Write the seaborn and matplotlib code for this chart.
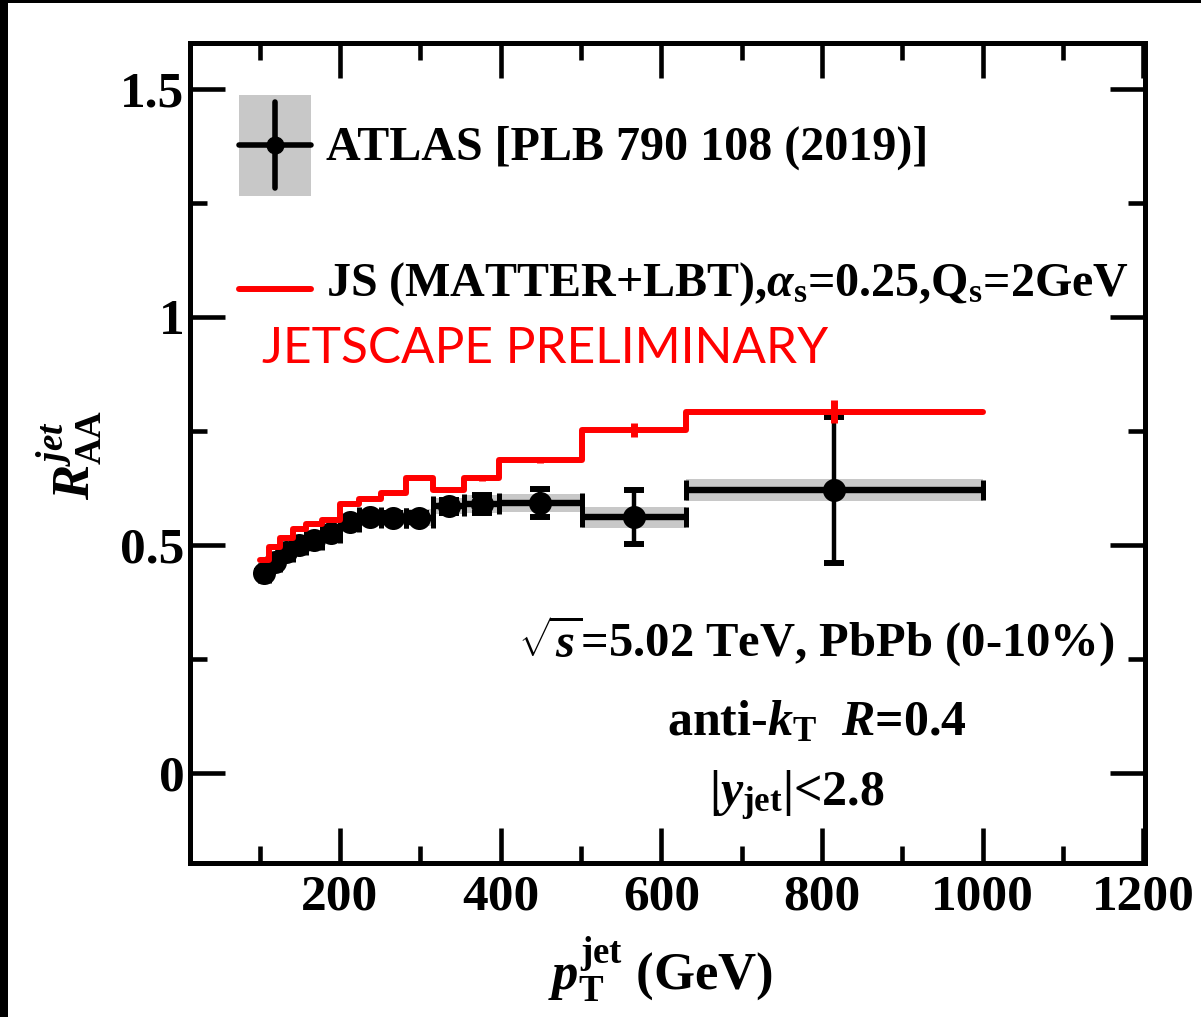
import numpy as np
import pandas as pd
import matplotlib
matplotlib.use("Agg")
import matplotlib.pyplot as plt
import seaborn as sns
from matplotlib.patches import Rectangle
from matplotlib.lines import Line2D
from matplotlib.ticker import MultipleLocator, FormatStrFormatter

# ---- data -------------------------------------------------------------
bin_edges = [100, 112, 126, 141, 158, 178, 200, 224, 251, 282, 316, 355, 398, 501, 631, 1000]
atlas_pt = [106, 119, 133.5, 149.5, 168, 189, 212, 237.5, 266.5, 299, 335.5, 376.5, 449.5, 566, 815.5]
atlas_raa = [0.438, 0.463, 0.485, 0.500, 0.510, 0.526, 0.550, 0.562, 0.560, 0.560, 0.585, 0.590, 0.592, 0.561, 0.620]
atlas_stat = [0.004, 0.004, 0.004, 0.005, 0.005, 0.006, 0.007, 0.008, 0.009, 0.010, 0.014, 0.020, 0.031, 0.060, 0.160]
atlas_syst = [0.015, 0.015, 0.015, 0.015, 0.015, 0.016, 0.016, 0.017, 0.017, 0.018, 0.018, 0.019, 0.020, 0.023, 0.024]
js_raa = [0.467, 0.495, 0.515, 0.535, 0.546, 0.555, 0.590, 0.600, 0.614, 0.647, 0.620, 0.647, 0.686, 0.752, 0.792]
js_err = [0.003, 0.003, 0.003, 0.003, 0.003, 0.003, 0.003, 0.004, 0.004, 0.005, 0.005, 0.006, 0.006, 0.015, 0.025]

x_ticks = [200, 400, 600, 800, 1000, 1200]
y_ticks = [0, 0.5, 1, 1.5]

label_atlas = "ATLAS [PLB 790 108 (2019)]"
label_js = r"JS (MATTER+LBT),$\alpha_{\rm s}$=0.25,Q$_{\rm s}$=2GeV"

# ---- style ------------------------------------------------------------
sns.set_theme(style="ticks")
plt.rcParams.update({
    "font.family": ["Liberation Serif", "DejaVu Serif"],
    "font.weight": "bold",
    "mathtext.fontset": "custom",
    "mathtext.rm": "Liberation Serif:bold",
    "mathtext.it": "Liberation Serif:italic:bold",
    "mathtext.bf": "Liberation Serif:bold",
    "mathtext.default": "it",
    "axes.linewidth": 3.6,
    "axes.edgecolor": "black",
    "text.color": "black",
    "xtick.color": "black",
    "ytick.color": "black",
})

W, H = 1201, 1017
fig = plt.figure(figsize=(W / 100, H / 100), dpi=100)
ax = fig.add_axes([190 / W, 1 - 863 / H, 955 / W, 820 / H])

edges = np.array(bin_edges, dtype=float)
pt = np.array(atlas_pt)
raa = np.array(atlas_raa)
syst = np.array(atlas_syst)

# systematic uncertainty boxes
ax.bar(edges[:-1], 2 * syst, bottom=raa - syst, width=np.diff(edges), align="edge",
       color="#c8c8c8", linewidth=0, zorder=1)

# bin widths with end caps
ax.errorbar(pt, raa, xerr=[pt - edges[:-1], edges[1:] - pt], fmt="none", ecolor="black",
            elinewidth=4.6, capsize=7, capthick=3.6, zorder=3)
# statistical uncertainties
ax.errorbar(pt, raa, yerr=atlas_stat, fmt="none", ecolor="black",
            elinewidth=3.2, capsize=7, capthick=4.3, zorder=3)
sns.scatterplot(x=atlas_pt, y=atlas_raa, ax=ax, color="black", s=275, linewidth=0,
                zorder=4, legend=False)

# JETSCAPE step histogram
js_df = pd.DataFrame({"pt": bin_edges, "raa": js_raa + [js_raa[-1]]})
sns.lineplot(data=js_df, x="pt", y="raa", ax=ax, drawstyle="steps-post", color="red",
             linewidth=4.3, zorder=5, estimator=None)
ax.errorbar(pt, js_raa, yerr=js_err, fmt="none", ecolor="red", elinewidth=5, capsize=0, zorder=5)

# ---- axes -------------------------------------------------------------
ax.set_xlim(13.4, 1202)
ax.set_ylim(-0.197, 1.6)
ax.set_xticks(x_ticks)
ax.xaxis.set_minor_locator(MultipleLocator(100))
ax.set_yticks(y_ticks)
ax.yaxis.set_minor_locator(MultipleLocator(0.25))
ax.yaxis.set_major_formatter(FormatStrFormatter("%g"))
ax.tick_params(which="both", direction="in", top=True, right=True, width=3.3,
               labelsize=37, pad=4)
ax.tick_params(axis="x", which="both", pad=8)
ax.tick_params(which="major", length=25)
ax.tick_params(which="minor", length=12.5)
ax.set_xlabel("")
ax.set_ylabel("")
for s in ax.spines.values():
    s.set_visible(True)
    s.set_linewidth(3.6)

fig.text(70 / W, 1 - 455 / H, r"$R^{jet}_{\rm AA}$", rotation=90, ha="center", va="center",
         fontsize=38)
fig.text(660 / W, 1 - 970 / H, r"$p_{\rm T}^{\rm jet}$ (GeV)", ha="center", va="center",
         fontsize=38)


# ---- legend -----------------------------------------------------------
class AtlasKey:
    def legend_artist(self, legend, orig_handle, fontsize, handlebox):
        xd, yd = handlebox.xdescent, handlebox.ydescent
        w, h = handlebox.width, handlebox.height
        tr = handlebox.get_transform()
        x0, y0 = -xd, -yd
        xc, yc = x0 + w / 2, y0 + h / 2
        box = Rectangle((x0, y0), w, h, facecolor="#c8c8c8", edgecolor="none", transform=tr)
        hl = Line2D([x0, x0 + w], [yc, yc], color="black", lw=4.0, transform=tr)
        vl = Line2D([xc, xc], [yc - 31, yc + 31], color="black", lw=4.0, transform=tr)
        mk = Line2D([xc], [yc], marker="o", ms=12, color="black", transform=tr)
        for a in (box, hl, vl, mk):
            handlebox.add_artist(a)
        return box


class RedLineKey:
    def legend_artist(self, legend, orig_handle, fontsize, handlebox):
        xd = handlebox.xdescent
        w = handlebox.width
        ln = Line2D([-xd, -xd + w], [5, 5], color="red", lw=4.3,
                    transform=handlebox.get_transform())
        handlebox.add_artist(ln)
        return ln


h_atlas = Rectangle((0, 0), 1, 1)
h_js = Line2D([], [])
ax.legend([h_atlas, h_js], [label_atlas, label_js],
          handler_map={Rectangle: AtlasKey(), Line2D: RedLineKey()},
          loc="upper left", bbox_to_anchor=((239 - 190) / 955, (863 - 95) / 820),
          frameon=False, borderpad=0, borderaxespad=0, fontsize=34.6,
          handlelength=1.5, handleheight=2.85, handletextpad=0.3, labelspacing=0.74)

# ---- annotations ------------------------------------------------------
ax.text((262 - 190) / 955, (863 - 363) / 820, "JETSCAPE PRELIMINARY", color="red",
        fontsize=35.7, fontweight="normal", family=["Lato", "DejaVu Sans"],
        transform=ax.transAxes, ha="left", va="baseline")
ax.text((1115 - 190) / 955, (863 - 657) / 820, r"$\sqrt{s}$=5.02 TeV, PbPb (0-10%)",
        fontsize=35, transform=ax.transAxes, ha="right", va="baseline")
ax.text((817 - 190) / 955, (863 - 735) / 820, r"anti-$k_{\rm T}$  $R$=0.4",
        fontsize=36, transform=ax.transAxes, ha="center", va="baseline")
ax.text((797 - 190) / 955, (863 - 806) / 820, r"|$y_{\rm jet}$|<2.8",
        fontsize=36, transform=ax.transAxes, ha="center", va="baseline")

# dark frame along the left and top edges
fig.patches.append(Rectangle((0, 0), 8 / W, 1, transform=fig.transFigure,
                             facecolor="black", edgecolor="none", zorder=10))
fig.patches.append(Rectangle((0, 1 - 3 / H), 1, 3 / H, transform=fig.transFigure,
                             facecolor="black", edgecolor="none", zorder=10))

fig.savefig("out.png", dpi=100)
